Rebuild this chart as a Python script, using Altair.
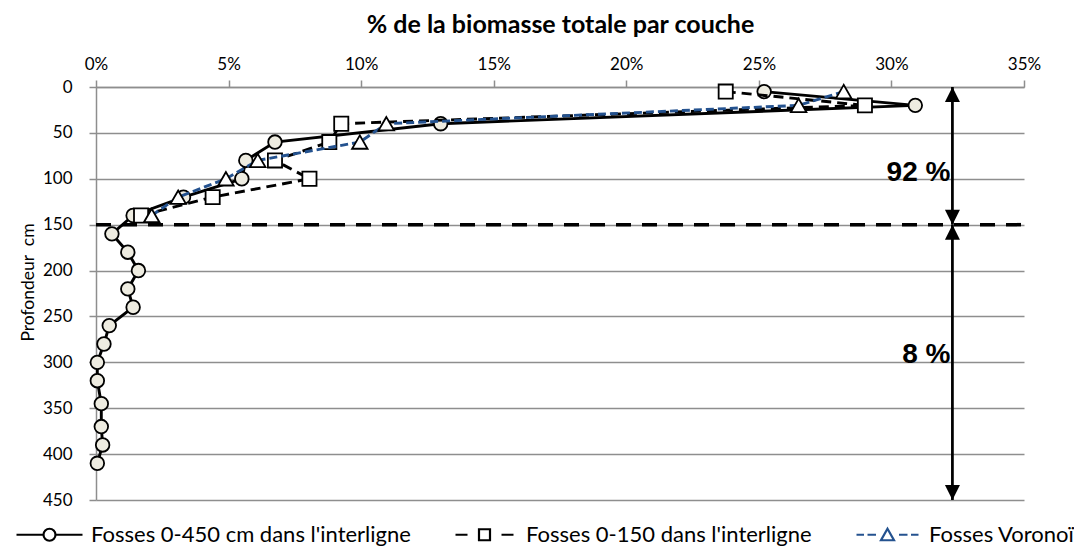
import altair as alt
import pandas as pd

# ---------------- data ----------------
series_names = ["Fosses 0-450 cm dans l'interligne",
                 "Fosses 0-150 dans l'interligne",
                 "Fosses Voronoï"]

depth_450 = [5, 20, 40, 60, 80, 100, 120, 140, 160, 180, 200, 220, 240,
             260, 280, 300, 320, 345, 370, 390, 410]
pct_450 = [25.2, 30.9, 13.0, 6.75, 5.65, 5.5, 3.3, 1.4, 0.6, 1.2, 1.6, 1.2,
           1.4, 0.5, 0.3, 0.05, 0.05, 0.2, 0.2, 0.25, 0.05]

depth_150 = [5, 20, 40, 60, 80, 100, 120, 140]
pct_150 = [23.75, 29.0, 9.25, 8.8, 6.75, 8.05, 4.4, 1.7]

depth_vor = [5, 20, 40, 60, 80, 100, 120, 140]
pct_vor = [28.2, 26.5, 10.95, 9.95, 6.1, 4.9, 3.1, 2.1]

x_ticks = [0, 5, 10, 15, 20, 25, 30, 35]
y_ticks = [0, 50, 100, 150, 200, 250, 300, 350, 400, 450]

split_depth = 150
arrow_pct = 32.3
share_labels = ["92 %", "8 %"]
share_depths = [102, 301]

title_text = "% de la biomasse totale par couche"
y_title = "Profondeur\u00a0 cm"

# ---------------- styles ----------------
GRID = "#8E8E8E"
BEIGE = "#EEECE1"
BLUE = "#24528F"
FONT = "Lato"

x_axis = alt.Axis(orient="top", values=x_ticks, labelExpr="datum.value + '%'",
                  grid=False, domainColor=GRID, domainWidth=1.5,
                  tickColor=GRID, tickWidth=1.5, tickSize=7,
                  labelFont=FONT, labelFontSize=17, labelColor="black",
                  labelPadding=11, labelBaseline="alphabetic",
                  labelFlush=False, labelOverlap=False,
                  title=title_text, titleFont=FONT, titleFontSize=25,
                  titleFontWeight="bold", titleColor="black",
                  titleY=-55, titleBaseline="alphabetic")
y_axis = alt.Axis(values=y_ticks, grid=True, gridColor=GRID, gridWidth=1.5,
                  domainColor=GRID, domainWidth=1.5, tickColor=GRID,
                  tickWidth=1.5, tickSize=7, labelFont=FONT, labelFontSize=17,
                  labelColor="black", labelPadding=17, labelOverlap=False,
                  title=y_title, titleFont=FONT, titleFontSize=17.5,
                  titleFontWeight="normal", titleColor="black",
                  titleX=-63, titleY=195, titleBaseline="alphabetic",
                  titleAngle=270)

X = alt.X("pct:Q", scale=alt.Scale(domain=[0, 35], nice=False, zero=False), axis=x_axis)
Y = alt.Y("depth:Q", scale=alt.Scale(domain=[0, 450], reverse=True, nice=False), axis=y_axis)

df1 = pd.DataFrame({"pct": pct_450, "depth": depth_450})
df2 = pd.DataFrame({"pct": pct_150, "depth": depth_150})
df3 = pd.DataFrame({"pct": pct_vor, "depth": depth_vor})

# horizontal split line at 150 cm
split_df = pd.DataFrame({"pct": [x_ticks[0]], "pct2": [x_ticks[-1]], "depth": [split_depth]})
split_line = alt.Chart(split_df).mark_rule(color="black", strokeWidth=3.5,
                                            strokeDash=[15, 11]).encode(
    x=X, x2=alt.X2("pct2"), y=Y)

# series
line1 = alt.Chart(df1).mark_line(color="black", strokeWidth=2.9).encode(
    x=X, y=Y, order=alt.Order("depth:Q"))
pts1 = alt.Chart(df1).mark_point(shape="circle", size=185, filled=True,
                                 fill=BEIGE, stroke="black", strokeWidth=1.8,
                                 opacity=1).encode(x=X, y=Y)
line2 = alt.Chart(df2).mark_line(color="black", strokeWidth=2.9,
                                 strokeDash=[10, 6]).encode(
    x=X, y=Y, order=alt.Order("depth:Q"))
pts2 = alt.Chart(df2).mark_point(shape="square", size=200, filled=True,
                                 fill="white", stroke="black", strokeWidth=1.8,
                                 opacity=1).encode(x=X, y=Y)
line3 = alt.Chart(df3).mark_line(color=BLUE, strokeWidth=2.9,
                                 strokeDash=[8, 4]).encode(
    x=X, y=Y, order=alt.Order("depth:Q"))
pts3 = alt.Chart(df3).mark_point(shape="triangle-up", size=240, filled=True,
                                 fill="white", stroke="black", strokeWidth=1.8,
                                 opacity=1).encode(x=X, y=Y)

# double arrows
arrow_df = pd.DataFrame({"pct": [arrow_pct, arrow_pct],
                         "depth": [y_ticks[0], split_depth],
                         "depth2": [split_depth, y_ticks[-1]]})
arrow_lines = alt.Chart(arrow_df).mark_rule(color="black", strokeWidth=2.75).encode(
    x=X, y=Y, y2=alt.Y2("depth2"))
UP = "M0,0L-1,2L1,2Z"
DOWN = "M0,0L-1,-2L1,-2Z"
up_df = pd.DataFrame({"pct": [arrow_pct, arrow_pct], "depth": [y_ticks[0], split_depth]})
down_df = pd.DataFrame({"pct": [arrow_pct, arrow_pct], "depth": [split_depth, y_ticks[-1]]})
heads_up = alt.Chart(up_df).mark_point(shape=UP, size=225, filled=True,
                                       color="black", opacity=1).encode(x=X, y=Y)
heads_down = alt.Chart(down_df).mark_point(shape=DOWN, size=225, filled=True,
                                           color="black", opacity=1).encode(x=X, y=Y)

# share labels
share_df = pd.DataFrame({"pct": [arrow_pct] * 2, "depth": share_depths, "txt": share_labels})
share_text = alt.Chart(share_df).mark_text(align="right", baseline="alphabetic", dx=-2,
                                           font="Liberation Sans", fontSize=28,
                                           fontWeight="bold", color="black").encode(
    x=X, y=Y, text="txt:N")

# legend (hidden points only carry the legend)
leg_paths = [
    "M-3.3,0H-0.62M0.62,0H3.3M-0.6,0A0.6,0.6 0 1,1 0.6,0A0.6,0.6 0 1,1 -0.6,0Z",
    "M-2.9,0H-1.7M1.7,0H2.9M-0.55,-0.55H0.55V0.55H-0.55Z",
    "M-3.1,0H-2.35M-2.0,0H-1.15M1.15,0H2.0M2.35,0H3.1M0,-0.6L0.65,0.55H-0.65Z",
]
leg_fills = [BEIGE, "white", "white"]
leg_strokes = ["black", "black", BLUE]
legend = alt.Legend(orient="none", legendX=-58, legendY=436, direction="horizontal",
                    title=None, symbolSize=400, symbolStrokeWidth=2.2,
                    labelFont=FONT, labelFontSize=22, labelColor="black",
                    labelOffset=30, columnPadding=40, labelLimit=0)
leg_df = pd.DataFrame({"series": series_names, "pct": [0, 0, 0], "depth": [0, 0, 0]})
leg_layer = alt.Chart(leg_df).mark_point(filled=True, opacity=0).encode(
    x=X, y=Y,
    shape=alt.Shape("series:N", scale=alt.Scale(domain=series_names, range=leg_paths),
                    legend=legend, sort=series_names),
    fill=alt.Fill("series:N", scale=alt.Scale(domain=series_names, range=leg_fills),
                  legend=legend, sort=series_names),
    stroke=alt.Stroke("series:N", scale=alt.Scale(domain=series_names, range=leg_strokes),
                      legend=legend, sort=series_names),
)

chart = alt.layer(
    split_line, line1, pts1, line2, pts2, line3, pts3,
    arrow_lines, heads_up, heads_down, share_text, leg_layer
).properties(
    width=928, height=413,
    autosize=alt.AutoSizeParams(type="none"),
    padding={"left": 88, "top": 79, "right": 50, "bottom": 47},
    background="white",
).configure_view(stroke=None)

chart.save("out.html", embed_options={"renderer": "svg", "actions": False})
